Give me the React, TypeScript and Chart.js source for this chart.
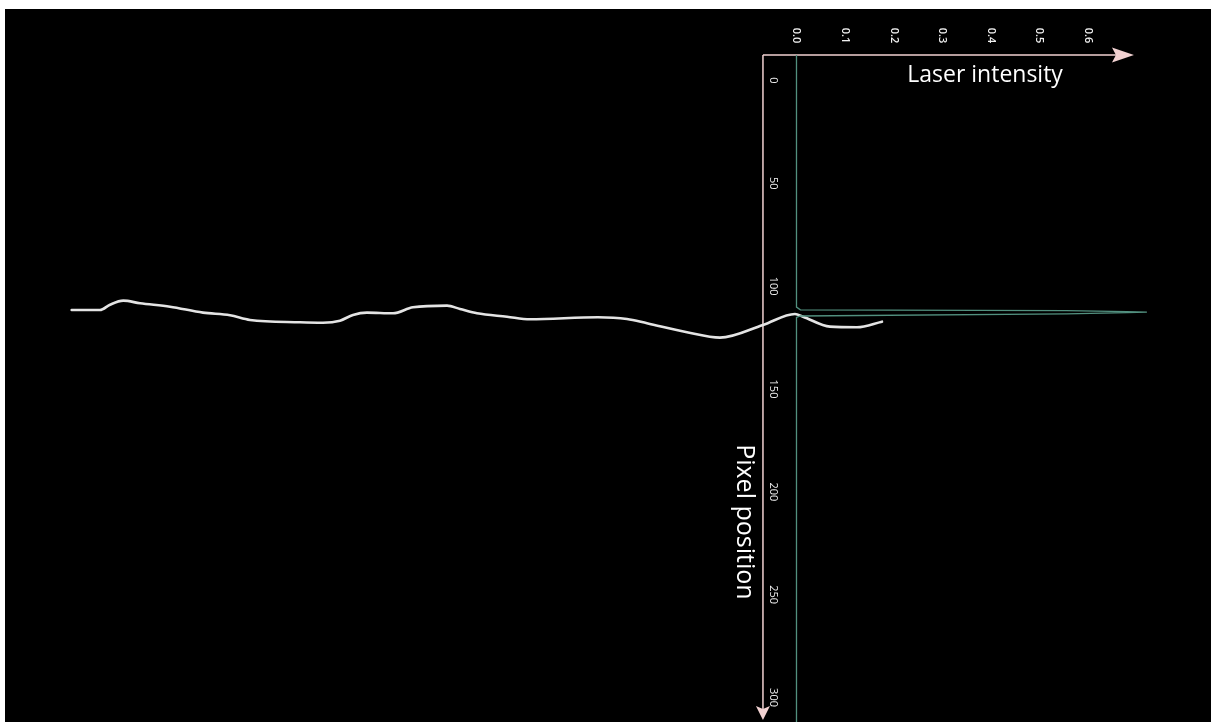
import React, { useEffect, useRef } from "react";
import { Chart, registerables } from "chart.js";

Chart.register(...registerables);

// Laser line traced across the camera frame (x in intensity units, y in pixel position)
const laserLineX = [
  -1.4914, -1.4331, -1.4125, -1.3852, -1.3508, -1.2891, -1.2212, -1.1656, -1.1245,
  -1.0216, -0.9743, -0.9393, -0.9126, -0.8838, -0.8302, -0.7891, -0.7191, -0.6924,
  -0.6574, -0.5957, -0.5484, -0.4085, -0.3488, -0.3076, -0.2253, -0.1574, -0.0689,
  -0.0031, 0.0134, 0.0689, 0.1245, 0.1759,
];
const laserLineY = [
  111.6, 111.6, 109.0, 107.05, 108.3, 109.97, 112.88, 114.15, 116.43,
  117.55, 117.75, 116.77, 114.0, 112.88, 113.18, 110.26, 109.48, 111.08,
  113.18, 114.83, 116.09, 115.12, 115.95, 118.04, 122.41, 125.04, 118.86,
  113.52, 114.83, 119.69, 119.98, 117.26,
];

// Intensity profile along the pixel column
const profilePixel = [-12.4, 110.2, 111.5, 111.9, 112.35, 112.6, 112.85, 113.5, 114.5, 115.2, 312];
const profileIntensity = [0, 0, 0.008, 0.555, 0.68, 0.721, 0.68, 0.555, 0.008, 0, 0];

const intensityTicks = [0.0, 0.1, 0.2, 0.3, 0.4, 0.5, 0.6];
const pixelTicks = [0, 50, 100, 150, 200, 250, 300];

const X_MIN = -1.6286;
const X_MAX = 0.8529;
const Y_MIN = -34.76;
const Y_MAX = 311.9;

const AXIS_COLOR = "#f2d2d2";

const axesOverlay = {
  id: "axesOverlay",
  beforeDatasetsDraw(chart: any) {
    const { ctx, scales } = chart;
    const xs = scales.x;
    const ys = scales.y;
    const ox = xs.getPixelForValue(-0.069);
    const oy = ys.getPixelForValue(-12.4);
    const ex = xs.getPixelForValue(0.6944);
    const ey = ys.getPixelForValue(310.9);

    ctx.save();
    ctx.strokeStyle = AXIS_COLOR;
    ctx.fillStyle = AXIS_COLOR;
    ctx.lineWidth = 1.5;

    // horizontal axis with arrow
    ctx.beginPath();
    ctx.moveTo(ox, oy);
    ctx.lineTo(ex - 10, oy);
    ctx.stroke();
    ctx.beginPath();
    ctx.moveTo(ex, oy);
    ctx.lineTo(ex - 22, oy - 7.5);
    ctx.lineTo(ex - 18, oy);
    ctx.lineTo(ex - 22, oy + 7.5);
    ctx.closePath();
    ctx.fill();

    // vertical axis with arrow
    ctx.beginPath();
    ctx.moveTo(ox, oy);
    ctx.lineTo(ox, ey - 10);
    ctx.stroke();
    ctx.beginPath();
    ctx.moveTo(ox, ey);
    ctx.lineTo(ox - 7, ey - 14);
    ctx.lineTo(ox, ey - 11);
    ctx.lineTo(ox + 7, ey - 14);
    ctx.closePath();
    ctx.fill();

    // tick labels, rotated to read downwards
    ctx.fillStyle = "#f0f0f0";
    ctx.textAlign = "center";
    ctx.textBaseline = "middle";
    ctx.font = '600 11px "Open Sans"';
    const tickRowY = ys.getPixelForValue(-21.9);
    intensityTicks.forEach((t) => {
      ctx.save();
      ctx.translate(xs.getPixelForValue(t), tickRowY);
      ctx.rotate(Math.PI / 2);
      ctx.fillText(t.toFixed(1), 0, 0);
      ctx.restore();
    });
    ctx.font = '11px "Open Sans"';
    const tickColX = xs.getPixelForValue(-0.0484);
    pixelTicks.forEach((t) => {
      ctx.save();
      ctx.translate(tickColX, ys.getPixelForValue(t));
      ctx.rotate(Math.PI / 2);
      ctx.fillText(String(t), 0, 0);
      ctx.restore();
    });

    // axis titles
    ctx.fillStyle = "#ffffff";
    ctx.font = '23px "Open Sans"';
    ctx.fillText("Laser intensity", xs.getPixelForValue(0.388), ys.getPixelForValue(-2.67));
    ctx.font = '25px "Open Sans"';
    ctx.save();
    ctx.translate(xs.getPixelForValue(-0.108), ys.getPixelForValue(214.6));
    ctx.rotate(Math.PI / 2);
    ctx.fillText("Pixel position", 0, 0);
    ctx.restore();

    ctx.restore();
  },
};

export default function App() {
  const canvasRef = useRef<HTMLCanvasElement | null>(null);

  useEffect(() => {
    if (!canvasRef.current) return;
    const chart = new Chart(canvasRef.current, {
      type: "scatter",
      data: {
        datasets: [
          {
            label: "Intensity profile",
            data: profilePixel.map((p, i) => ({ x: profileIntensity[i], y: p })),
            showLine: true,
            borderColor: "#52907f",
            borderWidth: 1.3,
            pointRadius: 0,
            tension: 0,
          },
          {
            label: "Laser line",
            data: laserLineX.map((x, i) => ({ x, y: laserLineY[i] })),
            showLine: true,
            borderColor: "#e4e4e4",
            borderWidth: 2.6,
            pointRadius: 0,
            cubicInterpolationMode: "monotone",
            borderCapStyle: "round",
            borderJoinStyle: "round",
          },
        ],
      },
      options: {
        animation: false,
        responsive: false,
        devicePixelRatio: 1,
        layout: { padding: 0 },
        plugins: {
          legend: { display: false },
          tooltip: { enabled: false },
        },
        scales: {
          x: { type: "linear", min: X_MIN, max: X_MAX, display: false },
          y: { type: "linear", min: Y_MIN, max: Y_MAX, reverse: true, display: false },
        },
      },
      plugins: [axesOverlay],
    });
    return () => chart.destroy();
  }, []);

  return (
    <div
      style={{
        position: "fixed",
        left: 5,
        top: 9,
        width: 1206,
        height: 713,
        background: "#000",
      }}
    >
      <canvas ref={canvasRef} width={1206} height={713} style={{ display: "block" }} />
    </div>
  );
}
